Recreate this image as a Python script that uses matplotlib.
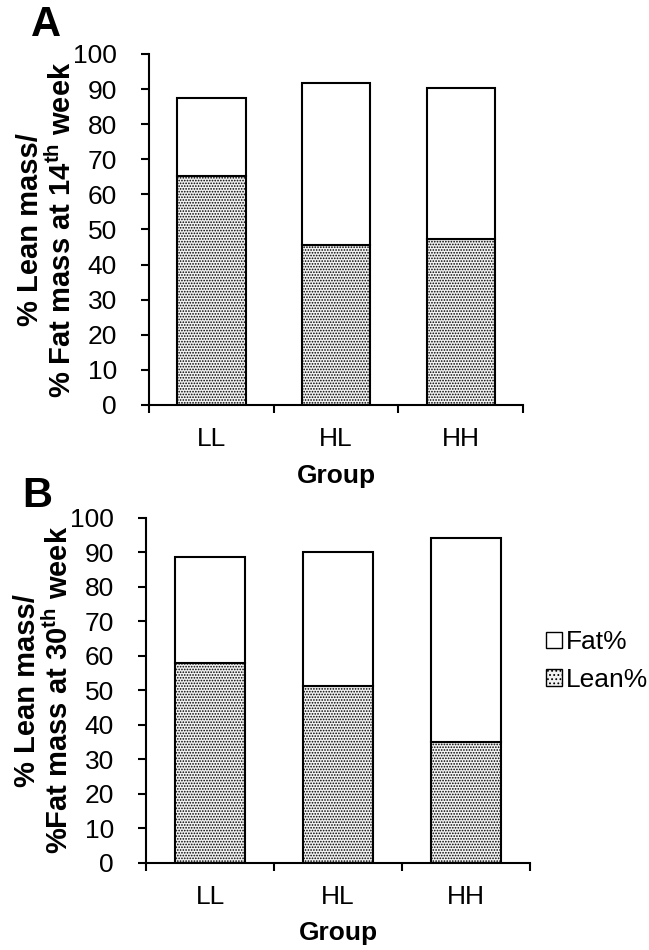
import matplotlib

matplotlib.use("Agg")
import matplotlib.pyplot as plt
import numpy as np
from matplotlib.patches import Patch

plt.rcParams["font.family"] = ["Liberation Sans", "DejaVu Sans"]
plt.rcParams["mathtext.fontset"] = "custom"
plt.rcParams["mathtext.rm"] = "Liberation Sans"
plt.rcParams["mathtext.bf"] = "Liberation Sans:bold"
plt.rcParams["hatch.linewidth"] = 0.8

groups = ["LL", "HL", "HH"]
# week 14 (panel A)
lean_14 = [65.2, 45.6, 47.2]
total_14 = [87.5, 91.8, 90.2]
# week 30 (panel B)
lean_30 = [57.8, 51.2, 34.9]
total_30 = [88.5, 90.0, 94.2]

fat_14 = [t - l for t, l in zip(total_14, lean_14)]
fat_30 = [t - l for t, l in zip(total_30, lean_30)]

LEAN_HATCH = "......"
LEAN_FACE = "#f2f2f2"
FS = 19


def _panel(ax, lean, fat, ylabel):
    x = np.arange(len(groups))
    ax.bar(x, lean, 0.55, color=LEAN_FACE, edgecolor="black", linewidth=1.5,
           hatch=LEAN_HATCH, label="Lean%", zorder=2)
    ax.bar(x, fat, 0.55, bottom=lean, color="white", edgecolor="black",
           linewidth=1.5, label="Fat%", zorder=2)
    ax.set_xlim(-0.5, len(groups) - 0.5)
    ax.set_ylim(0, 100)
    ax.set_yticks(range(0, 101, 10))
    ax.set_xticks(x)
    ax.set_xticklabels(groups)
    ax.set_xticks(np.arange(-0.5, len(groups)), minor=True)
    ax.tick_params(axis="x", which="major", length=0, pad=16, labelsize=FS)
    ax.tick_params(axis="x", which="minor", length=6, width=1.5, direction="out")
    ax.tick_params(axis="y", length=6, width=1.5, labelsize=FS, pad=17)
    for s in ["top", "right"]:
        ax.spines[s].set_visible(False)
    for s in ["left", "bottom"]:
        ax.spines[s].set_linewidth(1.5)
    ax.set_xlabel("Group", fontsize=FS, fontweight="bold", labelpad=9)
    ax.set_ylabel(ylabel, fontsize=21, fontweight="bold", labelpad=-3,
                  linespacing=1.1)


fig = plt.figure(figsize=(6.49, 9.5), dpi=100)
ax_a = fig.add_axes([0.2296, 0.5737, 0.5766, 0.3695])
ax_b = fig.add_axes([0.2250, 0.0919, 0.5916, 0.3631])

_panel(ax_a, lean_14, fat_14, "% Lean mass/\n% Fat mass at 14$^{\\mathbf{th}}$ week")
_panel(ax_b, lean_30, fat_30, "% Lean mass/\n%Fat mass at 30$^{\\mathbf{th}}$ week")

fig.text(46 / 649, 1 - 25 / 950, "A", fontsize=30, fontweight="bold",
         ha="center", va="center")
fig.text(37 / 649, 1 - 496 / 950, "B", fontsize=30, fontweight="bold",
         ha="center", va="center")

handles = [
    Patch(facecolor="white", edgecolor="black", linewidth=1.0, label="Fat%"),
    Patch(facecolor=LEAN_FACE, edgecolor="black", linewidth=1.0,
          hatch="....", label="Lean%"),
]
fig.legend(handles=handles, loc="center left",
           bbox_to_anchor=(546 / 649, 1 - 661 / 950), frameon=False,
           fontsize=FS, handlelength=0.6, handleheight=0.6,
           handletextpad=0.15, labelspacing=0.5, borderaxespad=0,
           borderpad=0)

fig.savefig("out.png", dpi=100)
